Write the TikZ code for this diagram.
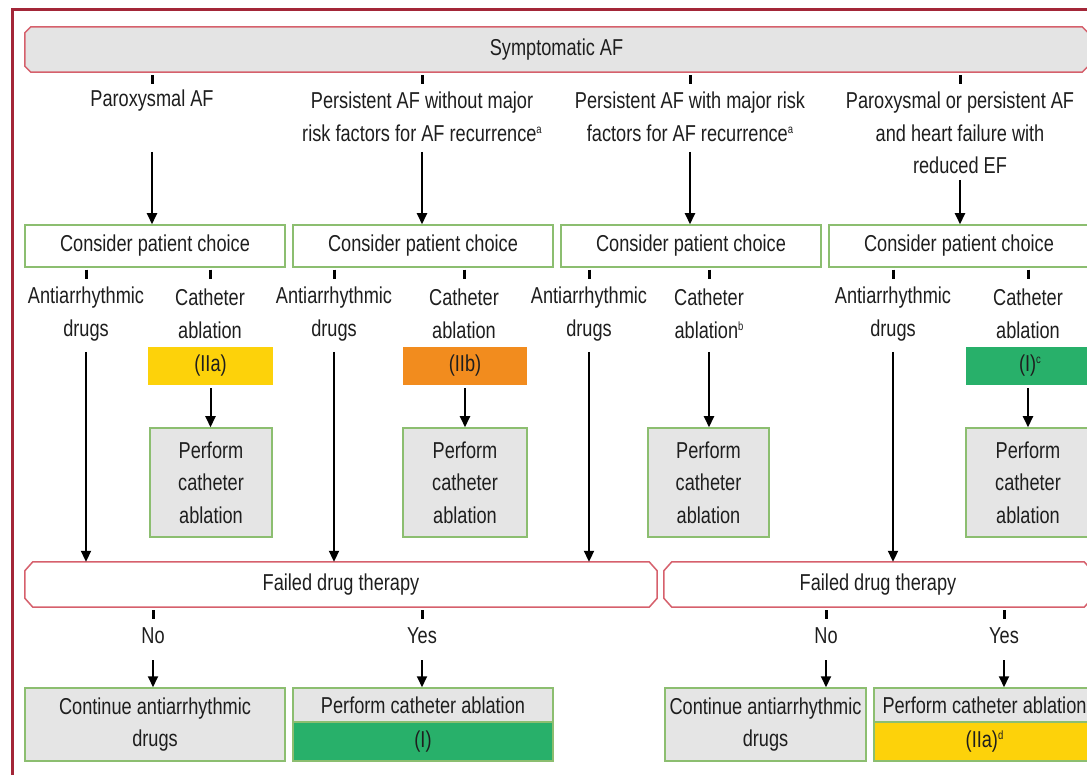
\documentclass[tikz,border=0pt]{standalone}
\usepackage{fontspec}
\setmainfont{Liberation Sans}[FakeStretch=0.79]
\usetikzlibrary{arrows.meta,backgrounds}
\definecolor{outer}{RGB}{163,38,56}
\definecolor{barred}{RGB}{214,96,108}
\definecolor{bargray}{RGB}{228,228,228}
\definecolor{gborder}{RGB}{140,190,112}
\definecolor{boxgray}{RGB}{229,229,229}
\definecolor{cyellow}{RGB}{253,210,10}
\definecolor{corange}{RGB}{242,140,30}
\definecolor{cgreen}{RGB}{40,176,106}
\definecolor{txt}{RGB}{30,30,30}
\newcommand\supr[1]{\raisebox{8pt}{\fontsize{12pt}{12pt}\selectfont #1}}
\newcommand\chamfer[4]{%
  \path[draw=barred,line width=1.5pt,fill=#4]
    ([xshift=#2]#1.north west) -- ([xshift=-#2]#1.north east) --
    ([yshift=-#3]#1.north east) -- ([yshift=#3]#1.south east) --
    ([xshift=-#2]#1.south east) -- ([xshift=#2]#1.south west) --
    ([yshift=#3]#1.south west) -- ([yshift=-#3]#1.north west) -- cycle;}
\begin{document}
\begin{tikzpicture}[x=1pt,y=-1pt,
  every node/.style={font=\fontsize{23pt}{32.5pt}\selectfont, text=txt, inner sep=0pt, align=center},
  bar/.style={rectangle, minimum height=45pt},
  gbox/.style={rectangle, draw=gborder, line width=1.5pt},
  cls/.style={rectangle, minimum height=38pt},
  arr/.style={line width=2pt, -{Triangle[length=11pt,width=10pt]}},
  tick/.style={line width=3pt},
]
\useasboundingbox (0,0) rectangle (1087,775);

% top bar
\node[bar, minimum width=1063pt] (S) at (556.5,49.5) {Symptomatic AF};

% column labels
\node (L1) at (152,101) {Paroxysmal AF};
\node (L2) at (422,117) {Persistent AF without major\\risk factors for AF recurrence\supr{a}};
\node (L3) at (690,117) {Persistent AF with major risk\\factors for AF recurrence\supr{a}};
\node (L4) at (960,133) {Paroxysmal or persistent AF\\and heart failure with\\reduced EF};

\coordinate (r1) at (0,152);
\coordinate (r1b) at (0,180);
\coordinate (r3) at (0,352);
\coordinate (r5) at (0,660);

% consider boxes
\node[gbox, fill=white, minimum width=260pt, minimum height=42pt] (C1) at (155,246) {Consider patient choice};
\node[gbox, fill=white, minimum width=260pt, minimum height=42pt] (C2) at (423,246) {Consider patient choice};
\node[gbox, fill=white, minimum width=260pt, minimum height=42pt] (C3) at (691,246) {Consider patient choice};
\node[gbox, fill=white, minimum width=260pt, minimum height=42pt] (C4) at (959,246) {Consider patient choice};

% option labels
\node (A1) at (86,314) {Antiarrhythmic\\drugs};
\node (T1) at (210,314) {Catheter\\ablation};
\node (A2) at (334,314) {Antiarrhythmic\\drugs};
\node (T2) at (464,314) {Catheter\\ablation};
\node (A3) at (589,314) {Antiarrhythmic\\drugs};
\node (T3) at (709,314) {Catheter\\ablation\supr{b}};
\node (A4) at (893,314) {Antiarrhythmic\\drugs};
\node (T4) at (1028,314) {Catheter\\ablation};

% class bars
\node[cls, fill=cyellow, minimum width=125pt] (K1) at (210.5,366) {(IIa)};
\node[cls, fill=corange, minimum width=124pt] (K2) at (465,366) {(IIb)};
\node[cls, fill=cgreen, minimum width=128pt] (K4) at (1030,366) {(I)\supr{c}};

% perform boxes
\node[gbox, fill=boxgray, minimum width=122pt, minimum height=109pt] (P1) at (211,482.5) {Perform\\catheter\\ablation};
\node[gbox, fill=boxgray, minimum width=124pt, minimum height=109pt] (P2) at (465,482.5) {Perform\\catheter\\ablation};
\node[gbox, fill=boxgray, minimum width=121pt, minimum height=109pt] (P3) at (708.5,482.5) {Perform\\catheter\\ablation};
\node[gbox, fill=boxgray, minimum width=124pt, minimum height=109pt] (P4) at (1028,482.5) {Perform\\catheter\\ablation};

% failed bars
\node[bar, minimum width=632pt] (F1) at (341,584.5) {Failed drug therapy};
\node[bar, minimum width=428pt] (F2) at (878,584.5) {Failed drug therapy};

% yes / no
\node (N1) at (153,636) {No};
\node (Y1) at (422,636) {Yes};
\node (N2) at (826,636) {No};
\node (Y2) at (1004,636) {Yes};

% bottom boxes
\node[gbox, fill=boxgray, minimum width=260pt, minimum height=73pt] (B1) at (155,724.5) {Continue antiarrhythmic\\drugs};
\node[gbox, fill=boxgray, minimum width=260pt, minimum height=34pt] (B2) at (423,705) {Perform catheter ablation};
\node[gbox, fill=cgreen, minimum width=260pt, minimum height=39pt] (B2c) at (423,741.5) {(I)};
\node[gbox, fill=boxgray, minimum width=201pt, minimum height=73pt] (B3) at (765.5,724.5) {Continue antiarrhythmic\\drugs};
\node[gbox, fill=boxgray, minimum width=221pt, minimum height=34pt] (B4) at (984.5,705) {Perform catheter ablation};
\node[gbox, fill=cyellow, minimum width=221pt, minimum height=39pt] (B4c) at (984.5,741.5) {(IIa)\supr{d}};

% page, frame and chamfered outlines behind everything
\begin{scope}[on background layer]
  \fill[white] (0,0) rectangle (1087,775);
  \draw[outer, line width=3pt] (12,10) rectangle (1110,800);
  \chamfer{S}{6pt}{6pt}{bargray}
  \chamfer{F1}{8pt}{9pt}{white}
  \chamfer{F2}{8pt}{9pt}{white}
\end{scope}

% ticks
\foreach \n in {L1,L2,L3,L4}{\draw[tick] (\n.north |- S.south) ++(0,3) -- ++(0,9);}
\foreach \n/\c in {A1/C1,T1/C1,A2/C2,T2/C2,A3/C3,T3/C3,A4/C4,T4/C4}{\draw[tick] (\n.north |- \c.south) ++(0,2) -- ++(0,9);}
\foreach \n/\c in {N1/F1,Y1/F1,N2/F2,Y2/F2}{\draw[tick] (\n.north |- \c.south) ++(0,3) -- ++(0,9);}

% arrows to consider boxes
\draw[arr] (L1 |- r1) -- (L1 |- C1.north);
\draw[arr] (L2 |- r1) -- (L2 |- C2.north);
\draw[arr] (L3 |- r1) -- (L3 |- C3.north);
\draw[arr] (L4 |- r1b) -- (L4 |- C4.north);

% arrows to perform boxes
\draw[arr] (K1.south) ++(0,3) -- (K1.south |- P1.north);
\draw[arr] (K2.south) ++(0,3) -- (K2.south |- P2.north);
\draw[arr] (T3 |- r3) -- (T3 |- P3.north);
\draw[arr] (K4.south -| P4.north) ++(0,3) -- (P4.north);

% long arrows to failed bars
\draw[arr] (A1 |- r3) -- (A1 |- F1.north);
\draw[arr] (A2 |- r3) -- (A2 |- F1.north);
\draw[arr] (A3 |- r3) -- (A3 |- F1.north);
\draw[arr] (A4 |- r3) -- (A4 |- F2.north);

% short arrows to bottom boxes
\draw[arr] (N1 |- r5) -- (N1 |- B1.north);
\draw[arr] (Y1 |- r5) -- (Y1 |- B2.north);
\draw[arr] (N2 |- r5) -- (N2 |- B3.north);
\draw[arr] (Y2 |- r5) -- (Y2 |- B4.north);
\end{tikzpicture}
\end{document}
